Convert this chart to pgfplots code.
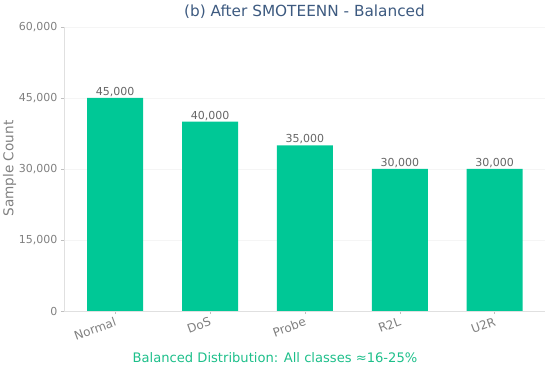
\documentclass[border=0pt]{standalone}
\usepackage{pgfplots}
\pgfplotsset{compat=1.18}
\usepackage{fontspec}
\setmainfont{DejaVu Sans}
\definecolor{barg}{HTML}{00C896}
\definecolor{titlec}{HTML}{3D5A80}
\definecolor{tickc}{HTML}{808080}
\definecolor{labc}{HTML}{666666}
\definecolor{botc}{HTML}{1DBF8A}
\begin{document}
\begin{tikzpicture}[x=1pt,y=1pt]
\path[use as bounding box] (0,0) rectangle (550,369);
\begin{axis}[
  at={(64pt,58pt)}, anchor=south west,
  scale only axis, width=481pt, height=284pt,
  ymin=0, ymax=60000, xmin=-0.54, xmax=4.53,
  ytick={0,15000,30000,45000,60000},
  xtick={0,1,2,3,4},
  xticklabels={Normal,DoS,Probe,R2L,U2R},
  /pgf/number format/assume math mode=true,
  yticklabel style={font=\fontsize{11}{13}\selectfont, text=tickc, /pgf/number format/1000 sep={,}},
  scaled y ticks=false,
  xticklabel style={font=\fontsize{12}{14}\selectfont, text=tickc, rotate=20, anchor=north east, inner sep=2pt},
  axis x line*=bottom, axis y line*=left,
  axis line style={draw=black!12},
  tick style={draw=black!25, line width=0.5pt},
  tick align=outside, major tick length=3pt,
  ymajorgrids, grid style={draw=black!4, line width=0.6pt},
  clip=false,
]
\addplot[ybar, bar width=56pt, fill=barg, draw=none,
  nodes near coords,
  nodes near coords style={font=\fontsize{11}{13}\selectfont, text=labc, /pgf/number format/1000 sep={,}, /pgf/number format/assume math mode=true, inner sep=1pt}]
coordinates {(0,45000) (1,40000) (2,35000) (3,30000) (4,30000)};
\end{axis}
\node[font=\fontsize{15.3}{18}\selectfont, text=titlec] at (304.5,357) {(b) After SMOTEENN - Balanced};
\node[font=\fontsize{13.1}{15}\selectfont, text=botc] at (275,11) {Balanced Distribution: All classes ≈16-25\%};
\node[font=\fontsize{13.6}{15}\selectfont, text=tickc, rotate=90] at (9.5,200.5) {Sample Count};
\end{tikzpicture}
\end{document}
